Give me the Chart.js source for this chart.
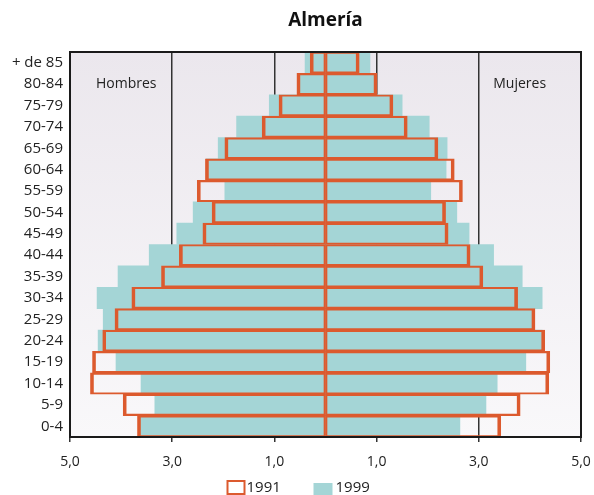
<!DOCTYPE html>
<html>
<head>
<meta charset="utf-8">
<script src="https://cdn.jsdelivr.net/npm/chart.js@4/dist/chart.umd.min.js"></script>
<style>
  html, body { margin: 0; padding: 0; background: #fff; }
  #wrap { width: 594px; height: 495px; }
</style>
</head>
<body>
<div id="wrap"><canvas id="pyramid"></canvas></div>
<script>
const ages = ['+ de 85', '80-84', '75-79', '70-74', '65-69', '60-64', '55-59', '50-54', '45-49',
    '40-44', '35-39', '30-34', '25-29', '20-24', '15-19', '10-14', '5-9', '0-4'];

// porcentajes, de arriba (mayores) a abajo (0-4)
const hombres1991 = [0.30, 0.56, 0.91, 1.24, 1.97, 2.35, 2.51, 2.22, 2.40, 2.86, 3.21, 3.79, 4.12, 4.36, 4.56, 4.60, 3.96, 3.68];
const mujeres1991 = [0.66, 1.01, 1.32, 1.60, 2.20, 2.52, 2.68, 2.35, 2.40, 2.83, 3.08, 3.76, 4.10, 4.29, 4.39, 4.37, 3.81, 3.43];
const hombres1999 = [0.40, 0.55, 1.10, 1.74, 2.10, 2.33, 1.97, 2.59, 2.91, 3.45, 4.06, 4.47, 4.35, 4.45, 4.10, 3.61, 3.34, 3.66];
const mujeres1999 = [0.87, 0.98, 1.50, 2.03, 2.38, 2.36, 2.06, 2.57, 2.81, 3.29, 3.85, 4.24, 4.08, 4.24, 3.92, 3.36, 3.14, 2.63];

const tickValues = [-5, -3, -1, 1, 3, 5];

const ORANGE = '#dc5a2e';
const TEAL = '#a4d5d6';
const FONT = "'Open Sans', 'Liberation Sans', sans-serif";

const decor = {
    id: 'decor',
    beforeDraw(chart) {
        const { ctx, chartArea: a } = chart;
        const g = ctx.createLinearGradient(0, a.top, 0, a.bottom);
        g.addColorStop(0, '#ebe7ed');
        g.addColorStop(1, '#f9f8fa');
        ctx.save();
        ctx.fillStyle = g;
        ctx.fillRect(a.left, a.top, a.right - a.left, a.bottom - a.top);
        ctx.restore();
    },
    beforeDatasetsDraw(chart) {
        const { ctx } = chart;
        const x = chart.scales.x, y = chart.scales.y;
        ctx.save();
        ctx.fillStyle = '#222';
        ctx.font = '14px ' + FONT;
        ctx.textAlign = 'center';
        ctx.textBaseline = 'middle';
        ctx.fillText('Hombres', x.getPixelForValue(-3.9), y.getPixelForValue(1));
        ctx.fillText('Mujeres', x.getPixelForValue(3.8), y.getPixelForValue(1));
        ctx.restore();
    },
    afterDraw(chart) {
        const { ctx, chartArea: a } = chart;
        const cx = (a.left + a.right) / 2;
        ctx.save();
        ctx.strokeStyle = '#1a1a1a';
        ctx.lineWidth = 2;
        ctx.strokeRect(a.left, a.top, a.right - a.left, a.bottom - a.top);

        ctx.fillStyle = '#111';
        ctx.font = 'bold 19px ' + FONT;
        ctx.textAlign = 'center';
        ctx.textBaseline = 'middle';
        ctx.fillText('Almería', cx, 21);

        // leyenda
        const ly = chart.height - 7;
        ctx.font = '15px ' + FONT;
        ctx.textAlign = 'left';
        ctx.fillStyle = '#fff';
        ctx.fillRect(cx - 98, ly - 7, 17, 13);
        ctx.strokeStyle = ORANGE;
        ctx.lineWidth = 2;
        ctx.strokeRect(cx - 98, ly - 7, 17, 13);
        ctx.fillStyle = '#222';
        ctx.fillText(chart.data.datasets[0].label, cx - 79, ly);
        ctx.fillStyle = TEAL;
        ctx.fillRect(cx - 12, ly - 5, 19, 14);
        ctx.fillStyle = '#222';
        ctx.fillText(chart.data.datasets[2].label, cx + 10, ly);
        ctx.restore();
    }
};

const outline = (men) => ({
    top: 1.5, bottom: 1.5,
    left: men ? 3 : 1.5,
    right: men ? 1.5 : 3
});

new Chart(document.getElementById('pyramid'), {
    type: 'bar',
    data: {
        labels: ages,
        datasets: [
            { label: '1991', data: hombres1991.map(v => -v), backgroundColor: 'rgba(0,0,0,0)',
              borderColor: ORANGE, borderWidth: outline(true), borderSkipped: false },
            { label: '1991', data: mujeres1991, backgroundColor: 'rgba(0,0,0,0)',
              borderColor: ORANGE, borderWidth: outline(false), borderSkipped: false },
            { label: '1999', data: hombres1999.map(v => -v), backgroundColor: TEAL, borderWidth: 0 },
            { label: '1999', data: mujeres1999, backgroundColor: TEAL, borderWidth: 0 }
        ]
    },
    options: {
        indexAxis: 'y',
        responsive: true,
        maintainAspectRatio: false,
        animation: false,
        grouped: false,
        barPercentage: 1,
        categoryPercentage: 1,
        layout: { padding: { top: 52, right: 13, left: 0, bottom: 22 } },
        scales: {
            x: {
                type: 'linear',
                min: -5,
                max: 5,
                afterBuildTicks(scale) {
                    scale.ticks = tickValues.map(v => ({ value: v }));
                },
                afterFit(scale) {
                    scale.height = 36;
                    scale.paddingLeft = 0;
                    scale.paddingRight = 0;
                },
                ticks: {
                    color: '#222',
                    font: { family: FONT, size: 14 },
                    padding: 12,
                    callback: v => Math.abs(v).toFixed(1).replace('.', ',')
                },
                grid: { color: '#333', lineWidth: 1.5, drawTicks: true, tickLength: 5, tickColor: '#333' },
                border: { display: false }
            },
            y: {
                afterFit(scale) { scale.width = 70; },
                ticks: {
                    color: '#222',
                    font: { family: FONT, size: 15 },
                    padding: 7,
                    autoSkip: false
                },
                grid: { display: false, drawTicks: false },
                border: { display: false }
            }
        },
        plugins: {
            title: { display: false },
            tooltip: { enabled: false },
            legend: { display: false }
        }
    },
    plugins: [decor]
});
</script>
</body>
</html>
